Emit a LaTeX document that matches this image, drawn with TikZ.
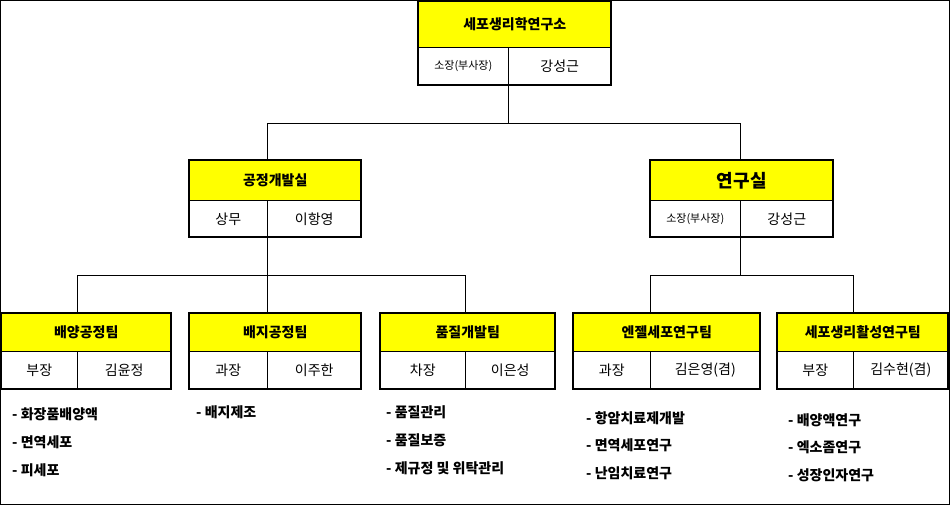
\documentclass[tikz,border=0pt]{standalone}
\usepackage{fontspec}
\setmainfont{Noto Sans CJK KR}
\definecolor{hdr}{RGB}{255,255,0}
\tikzset{cell/.style={draw,line width=0.6pt,inner sep=0pt,anchor=north west},
 txt/.style={font=\fontsize{14}{16}\selectfont},
 item/.style={anchor=west,font=\bfseries\fontsize{14}{16}\selectfont,inner sep=0pt},
 conn/.style={line width=0.6pt}}
\begin{document}
\begin{tikzpicture}[x=1pt,y=-1pt]
\draw[line width=1.2pt] (0.6,0.6) rectangle (949.4,504.4);
\useasboundingbox (0,0) rectangle (950,505);
\newcommand\bx[9]{%
 \node[cell,fill=hdr,minimum width=#3-#2,minimum height=#6-#5] (#1-h) at (#2,#5) {};
 \node[cell,minimum width=#4-#2,minimum height=#7-#6] (#1-r) at (#2,#6) {};
 \node[cell,minimum width=#3-#4,minimum height=#7-#6] (#1-p) at (#4,#6) {};
 \draw[line width=1.8pt] (#2,#5) rectangle (#3,#7);
 \coordinate (#1-in) at (#4,#5);
 \coordinate (#1-out) at (#4,#7);
 \node[font=\bfseries\fontsize{14}{16}\selectfont] (#1-t) at (#1-h.center) {#8};
 \node[txt] (#1-rt) at (#1-r.center) {#9};
}
\bx{top}{418}{611}{508}{1}{47}{85}{세포생리학연구소}{\fontsize{11}{13}\selectfont 소장(부사장)}
\node[txt] at (top-p.center) {강성근};
\bx{dev}{189}{361}{267}{160}{200}{237}{공정개발실}{상무}
\node[txt] at (dev-p.center) {이항영};
\bx{lab}{650}{833}{740}{160}{200}{237}{\fontsize{18}{20}\selectfont 연구실}{\fontsize{11}{13}\selectfont 소장(부사장)}
\node[txt] at (lab-p.center) {강성근};
\bx{t1}{1}{171}{77}{313}{351}{389}{배양공정팀}{부장}
\node[txt] at (t1-p.center) {김윤정};
\bx{t2}{189}{361}{267}{313}{351}{389}{배지공정팀}{과장}
\node[txt] at (t2-p.center) {이주한};
\bx{t3}{380}{555}{465}{313}{351}{389}{품질개발팀}{차장}
\node[txt] at (t3-p.center) {이은성};
\bx{t4}{573}{760}{650}{313}{351}{389}{엔젤세포연구팀}{과장}
\node[txt] at (t4-p.center) {김은영(겸)};
\bx{t5}{777}{948}{853}{313}{351}{389}{세포생리활성연구팀}{부장}
\node[txt] at (t5-p.center) {김수현(겸)};
\draw[conn] (top-out) -- (508,123) -| (dev-in);
\draw[conn] (508,123) -| (lab-in);
\draw[conn] (dev-out) -- (267,275) -| (t1-in);
\draw[conn] (267,275) -- (t2-in);
\draw[conn] (267,275) -| (t3-in);
\draw[conn] (lab-out) -- (740,275) -| (t4-in);
\draw[conn] (740,275) -| (t5-in);
\node[item] (a1) at (12,414) {- 화장품배양액};
\node[item] (a2) at (12,442) {- 면역세포};
\node[item] (a3) at (12,470) {- 피세포};
\node[item] (b1) at (196,412) {- 배지제조};
\node[item] (c1) at (386,412) {- 품질관리};
\node[item] (c2) at (386,440) {- 품질보증};
\node[item] (c3) at (386,468) {- 제규정 및 위탁관리};
\node[item] (d1) at (586,418) {- 항암치료제개발};
\node[item] (d2) at (586,445) {- 면역세포연구};
\node[item] (d3) at (586,473) {- 난임치료연구};
\node[item] (e1) at (788,420) {- 배양액연구};
\node[item] (e2) at (788,447) {- 엑소좀연구};
\node[item] (e3) at (788,475) {- 성장인자연구};
\end{tikzpicture}
\end{document}
